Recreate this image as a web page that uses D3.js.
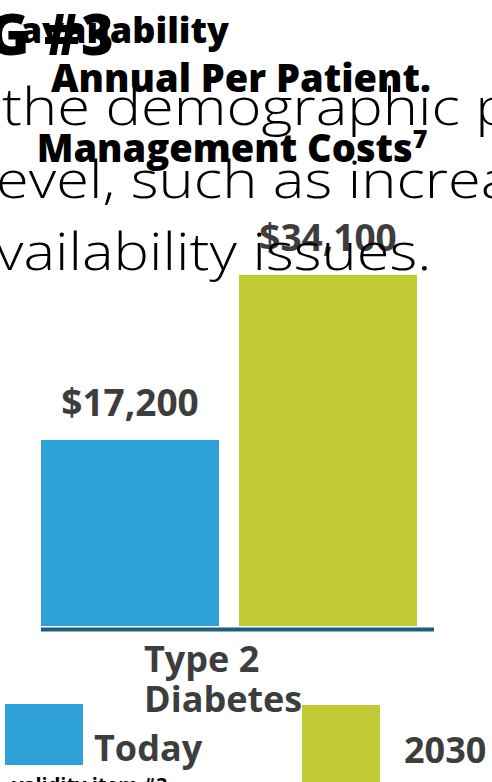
<!DOCTYPE html>
<html>
<head>
    <script src="https://d3js.org/d3.v7.min.js"></script>
    <style>
        body { margin: 0; overflow: hidden; background: #fff; }
        svg { display: block; font-family: "Open Sans", Lato, sans-serif; }
    </style>
</head>
<body>
    <svg id="chart" width="492" height="782"></svg>
    <script>
        const categories = ["Type 2 Diabetes"];
        const seriesNames = ["Today", "2030"];
        const seriesValues = [17200, 34100];
        const valueLabels = ["$17,200", "$34,100"];
        const colors = ["#2ea1d9", "#c1cb33"];
        const bgLines = ["the demographic p", "evel, such as increa", "vailability issues."];

        const svg = d3.select("#chart");
        const ink = "#3d3d3d";

        // header texts overlapping each other
        svg.append("text").attr("x", -12).attr("y", 55)
            .attr("font-size", 56).attr("font-weight", 800).text("G #3");
        svg.append("text").attr("x", 229).attr("y", 43).attr("text-anchor", "end")
            .attr("font-size", 36).attr("font-weight", 800).text("availability");
        svg.append("text").attr("x", 241).attr("y", 92).attr("text-anchor", "middle")
            .attr("font-size", 38).attr("font-weight", 800).text("Annual Per Patient.");
        const t2 = svg.append("text").attr("x", 232).attr("y", 162).attr("text-anchor", "middle")
            .attr("font-size", 38).attr("font-weight", 800);
        t2.append("tspan").text("Management Costs");
        t2.append("tspan").attr("font-size", 25).attr("dy", -14).text("7");

        // chart
        const x = d3.scaleBand().domain(seriesNames).range([41, 417]).paddingInner(0.101);
        const y = d3.scaleLinear().domain([-1850, 34100]).range([626, 275]);

        svg.selectAll(".vlabel").data(seriesValues).enter().append("text")
            .attr("x", (d, i) => x(seriesNames[i]) + x.bandwidth() / 2)
            .attr("y", d => y(d) - 24)
            .attr("text-anchor", "middle").attr("fill", ink)
            .attr("font-size", 37).attr("font-weight", 700)
            .text((d, i) => valueLabels[i]);

        // background paragraph (wide light face, stretched)
        svg.selectAll(".bg").data(bgLines).enter().append("text")
            .attr("transform", (d, i) => `translate(${i === 0 ? 2 : -4},${125 + i * 72.5}) scale(1.17,1)`)
            .attr("font-size", 51).attr("font-weight", 300).attr("fill", "#000")
            .text(d => d);

        svg.selectAll(".bar").data(seriesValues).enter().append("rect")
            .attr("x", (d, i) => x(seriesNames[i]))
            .attr("width", x.bandwidth())
            .attr("y", d => y(d))
            .attr("height", d => y(-1850) - y(d))
            .attr("fill", (d, i) => colors[i]);

        svg.append("line").attr("x1", 41).attr("x2", 434).attr("y1", 629.5).attr("y2", 629.5)
            .attr("stroke", "#1a5f82").attr("stroke-width", 4);

        const cat = svg.append("text").attr("fill", ink).attr("font-size", 36).attr("font-weight", 700);
        cat.append("tspan").attr("x", 144).attr("y", 672).text(categories[0].split(" ").slice(0, 2).join(" "));
        cat.append("tspan").attr("x", 144).attr("y", 712).text(categories[0].split(" ")[2]);

        // legend
        const legendX = [5, 302], legendY = [704, 705], textX = [94, 404], textY = [761, 763];
        seriesNames.forEach((s, i) => {
            svg.append("rect").attr("x", legendX[i]).attr("y", legendY[i])
                .attr("width", 78).attr("height", i === 0 ? 61 : 78).attr("fill", colors[i]);
            svg.append("text").attr("x", textX[i]).attr("y", textY[i]).attr("fill", ink)
                .attr("font-size", 36).attr("font-weight", 700).text(s);
        });

        svg.append("text").attr("x", 12).attr("y", 792).attr("font-size", 20)
            .attr("font-weight", 700).text("validity item #3");
    </script>
</body>
</html>
